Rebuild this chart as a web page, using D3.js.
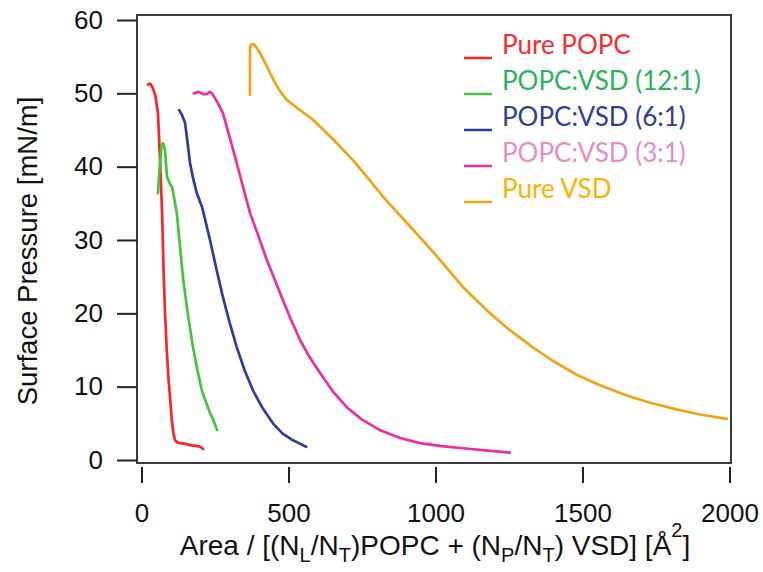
<!DOCTYPE html>
<html>
<head>
<meta charset="utf-8">
<script src="https://cdn.jsdelivr.net/npm/d3@7"></script>
<style>
  body { margin: 0; background: #fff; }
  .ax { font-family: "Liberation Sans", Arial, sans-serif; }
  .lg { font-family: Lato, "Open Sans", sans-serif; }
</style>
</head>
<body>
<svg id="chart" width="763" height="572"></svg>
<script>
// isotherms: [area (Å²), surface pressure (mN/m)]
var purePOPC = [[22,51.2],[30,51.3],[39,50.7],[48,49.5],[56,47.3],[63,41],[70,33.7],[75,26],[80,20],[86,15],[92,11],[97,8.6],[103,5.5],[108,3.8],[114,2.7],[122,2.4],[131,2.3],[150,2.2],[170,2.0],[190,1.9],[200,1.8],[210,1.5]];
var popcVsd12 = [[56,36.4],[62,40],[68,42.8],[73,43.2],[80,42.3],[84,40],[87,38.6],[95,37.8],[104,37.2],[112,35.5],[120,33.7],[130,29.5],[142,24.6],[158,19.8],[175,15.4],[190,12.3],[205,9.5],[220,7.8],[233,6.4],[245,5.4],[257,4.1]];
var popcVsd6 = [[128,47.7],[136,47.2],[148,46],[156,43.5],[165,40.5],[175,38.5],[188,36.4],[206,34.5],[218,32.5],[233,30],[255,26],[277,22.2],[300,18.7],[324,15.4],[350,12.3],[379,9.5],[410,7.2],[447,5],[480,3.6],[510,2.8],[540,2.2],[560,1.8]];
var popcVsd3 = [[178,50],[195,50.2],[210,49.9],[222,49.9],[232,50.2],[240,50],[258,48.8],[277,47.3],[300,44],[324,40.5],[347,37],[369,33.7],[398,30.5],[426,27.3],[454,24.5],[481,21.8],[510,19],[539,16.4],[572,14],[607,11.9],[650,9.4],[698,7.2],[750,5.5],[810,4.1],[880,3],[947,2.3],[1020,1.9],[1093,1.6],[1170,1.3],[1253,1.0]];
var pureVSD = [[369,49.8],[369,56.3],[375,56.7],[385,56.6],[403,55.5],[420,54.2],[437,52.8],[455,51.4],[471,50.3],[494,49.1],[530,48],[583,46.4],[650,43.8],[719,40.9],[767,38.6],[830,35.5],[924,31.4],[1000,28],[1093,23.6],[1180,20.2],[1253,17.7],[1330,15.4],[1400,13.5],[1481,11.6],[1560,10.2],[1650,8.8],[1730,7.8],[1820,6.9],[1900,6.2],[1991,5.6]];

var seriesNames = ["Pure POPC", "POPC:VSD (12:1)", "POPC:VSD (6:1)", "POPC:VSD (3:1)", "Pure VSD"];
var seriesData = [purePOPC, popcVsd12, popcVsd6, popcVsd3, pureVSD];
var lineColors = ["#ff2424", "#46c43c", "#2f3c9c", "#ee2e9e", "#f0a414"];
var textColors = ["#ff2a2a", "#2db35c", "#2f3f96", "#e68ec4", "#ffb200"];

var xTicks = [0, 500, 1000, 1500, 2000];
var yTicks = [0, 10, 20, 30, 40, 50, 60];

var svg = d3.select("#chart");

var x = d3.scaleLinear().domain([0, 2000]).range([141.5, 729.5]);
var y = d3.scaleLinear().domain([0, 60]).range([460, 20]);

// frame
svg.append("rect")
  .attr("x", 137).attr("y", 15)
  .attr("width", 594).attr("height", 448)
  .attr("fill", "none")
  .attr("stroke", "#3a3a3a")
  .attr("stroke-width", 2);

var yAxis = svg.append("g")
  .attr("class", "ax")
  .attr("transform", "translate(137,0)")
  .call(d3.axisLeft(y).tickValues(yTicks).tickSize(20).tickSizeOuter(0).tickPadding(14));
yAxis.select(".domain").remove();
yAxis.selectAll("line").attr("stroke", "#222").attr("stroke-width", 2);
yAxis.selectAll("text").attr("font-size", 26).attr("fill", "#111");

var xAxis = svg.append("g")
  .attr("class", "ax")
  .attr("transform", "translate(0,467)")
  .call(d3.axisBottom(x).tickValues(xTicks).tickFormat(d3.format("d")).tickSize(16).tickSizeOuter(0).tickPadding(21));
xAxis.select(".domain").remove();
xAxis.selectAll("line").attr("stroke", "#222").attr("stroke-width", 2);
xAxis.selectAll("text").attr("font-size", 26).attr("fill", "#111");

// y label
svg.append("text")
  .attr("class", "ax")
  .attr("transform", "translate(37,251) rotate(-90)")
  .attr("text-anchor", "middle")
  .attr("font-size", 27.5)
  .attr("fill", "#111")
  .text("Surface Pressure [mN/m]");

// x label with subscripts
var xl = svg.append("text")
  .attr("class", "ax")
  .attr("x", 435).attr("y", 555)
  .attr("text-anchor", "middle")
  .attr("font-size", 28)
  .attr("fill", "#111");
var parts = [["Area / [(N",0],["L",1],["/N",0],["T",1],[")POPC + (N",0],["P",1],["/N",0],["T",1],[") VSD] [Å",0],["2",2],["]",0]];
parts.forEach(function(p, i) {
  var t = xl.append("tspan").text(p[0]);
  var prev = i > 0 ? parts[i - 1][1] : 0;
  if (p[1] === 1) t.attr("font-size", 20).attr("dy", 7);
  else if (p[1] === 2) t.attr("font-size", 20).attr("dy", -18);
  else if (prev === 1) t.attr("dy", -7);
  else if (prev === 2) t.attr("dy", 18);
});

var line = d3.line()
  .x(function(d) { return x(d[0]); })
  .y(function(d) { return y(d[1]); });

seriesData.forEach(function(s, i) {
  svg.append("path")
    .datum(s)
    .attr("fill", "none")
    .attr("stroke", lineColors[i])
    .attr("stroke-width", 2.7)
    .attr("stroke-linejoin", "round")
    .attr("stroke-linecap", "round")
    .attr("d", line);
});

// legend
var legend = svg.append("g").attr("class", "lg");
seriesNames.forEach(function(name, i) {
  var base = 54 + i * 36;
  legend.append("line")
    .attr("x1", 464).attr("x2", 492)
    .attr("y1", base + 4).attr("y2", base + 4)
    .attr("stroke", lineColors[i])
    .attr("stroke-width", 2.5);
  legend.append("text")
    .attr("x", 502).attr("y", base)
    .attr("font-size", 26)
    .attr("fill", textColors[i])
    .text(name);
});
</script>
</body>
</html>
